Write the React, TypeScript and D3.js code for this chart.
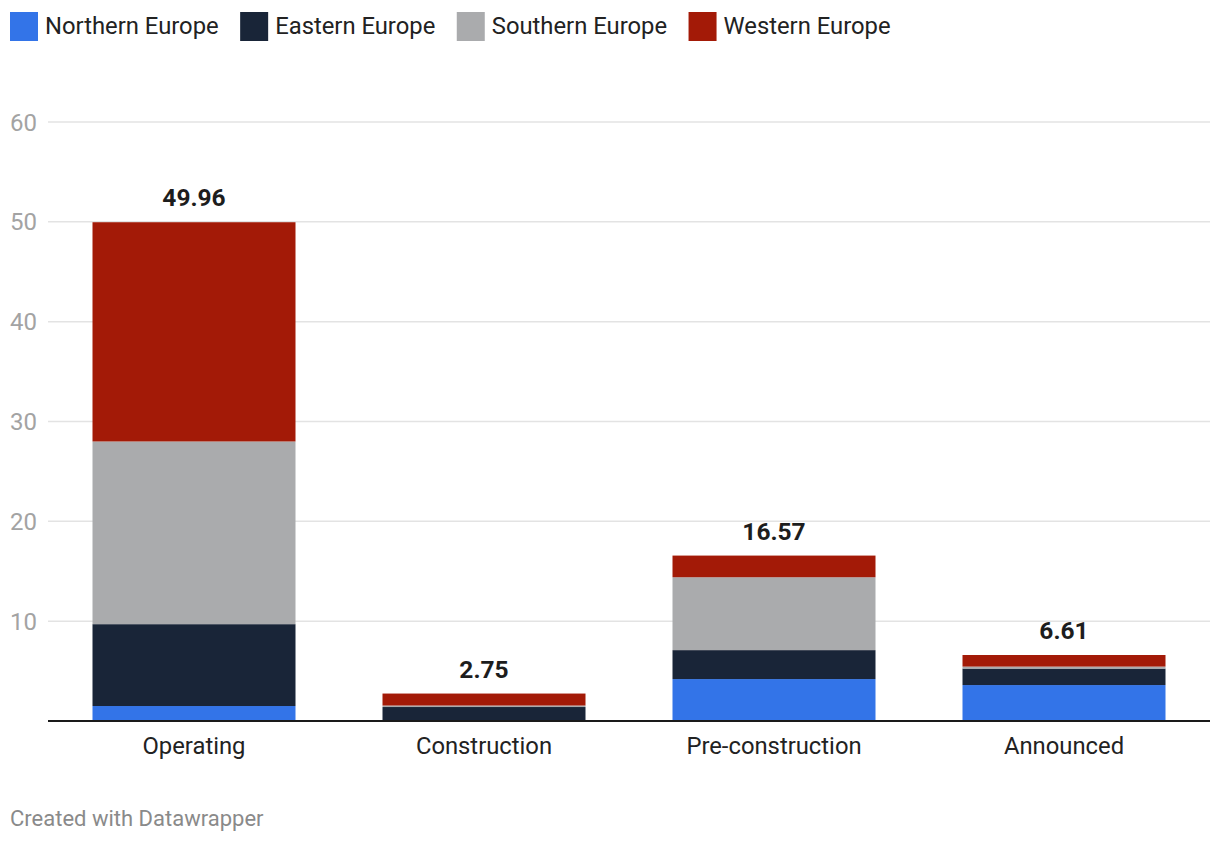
import React, { useEffect, useRef } from "react";
import * as d3 from "d3";

const categories = ["Operating", "Construction", "Pre-construction", "Announced"];
const seriesNames = ["Northern Europe", "Eastern Europe", "Southern Europe", "Western Europe"];
const northern = [1.5, 0, 4.2, 3.6];
const eastern = [8.2, 1.4, 2.9, 1.65];
const southern = [18.3, 0.15, 7.3, 0.2];
const western = [21.96, 1.2, 2.17, 1.16];
const totals = [49.96, 2.75, 16.57, 6.61];
const totalLabels = ["49.96", "2.75", "16.57", "6.61"];
const yTicks = [10, 20, 30, 40, 50, 60];
const colors = ["#3374e8", "#192538", "#aaabad", "#a31a07"];

const W = 1220;
const H = 844;
const FONT = "Roboto, 'Noto Sans', sans-serif";

export default function App() {
  const ref = useRef<SVGSVGElement | null>(null);

  useEffect(() => {
    document.body.style.margin = "0";
    const svg = d3.select(ref.current);
    svg.selectAll("*").remove();

    const x = d3.scaleBand<string>().domain(categories).range([49, 1209]).paddingInner(0.3).paddingOuter(0.15);
    const y = d3.scaleLinear().domain([0, 60]).range([721, 122]);

    const grid = svg.append("g");
    yTicks.forEach((t) => {
      grid.append("line").attr("x1", 48).attr("x2", 1210).attr("y1", y(t)).attr("y2", y(t))
        .attr("stroke", "#e3e3e3").attr("stroke-width", 1.5);
      grid.append("text").attr("x", 10).attr("y", y(t) + 8.5).text(String(t))
        .attr("font-family", FONT).attr("font-size", 24).attr("fill", "#a3a3a3");
    });

    const rows = categories.map((c, i) => ({
      cat: c,
      "Northern Europe": northern[i],
      "Eastern Europe": eastern[i],
      "Southern Europe": southern[i],
      "Western Europe": western[i],
    }));
    const stack = d3.stack<any>().keys(seriesNames)(rows);
    stack.forEach((layer, li) => {
      svg.append("g").selectAll("rect").data(layer).join("rect")
        .attr("x", (d: any) => x(d.data.cat)!)
        .attr("width", x.bandwidth())
        .attr("y", (d: any) => y(d[1]))
        .attr("height", (d: any) => Math.max(0, y(d[0]) - y(d[1])))
        .attr("fill", colors[li]);
    });

    svg.append("line").attr("x1", 48).attr("x2", 1210).attr("y1", 721).attr("y2", 721)
      .attr("stroke", "#1a1a1a").attr("stroke-width", 2);

    categories.forEach((c, i) => {
      svg.append("text").attr("x", x(c)! + x.bandwidth() / 2).attr("y", y(totals[i]) - 16)
        .attr("text-anchor", "middle").attr("font-family", FONT).attr("font-size", 24.5)
        .attr("font-weight", 700).attr("fill", "#1d1d1d").text(totalLabels[i]);
      svg.append("text").attr("x", x(c)! + x.bandwidth() / 2).attr("y", 754)
        .attr("text-anchor", "middle").attr("font-family", FONT).attr("font-size", 23.8)
        .attr("fill", "#222").text(c);
    });

    let lx = 10;
    seriesNames.forEach((s, i) => {
      svg.append("rect").attr("x", lx).attr("y", 12).attr("width", 28).attr("height", 29).attr("fill", colors[i]);
      const t = svg.append("text").attr("x", lx + 35).attr("y", 34).attr("font-family", FONT)
        .attr("font-size", 23.8).attr("fill", "#222").text(s);
      const w = (t.node() as SVGTextElement).getComputedTextLength();
      lx = lx + 35 + w + 21.5;
    });

    svg.append("text").attr("x", 10).attr("y", 826).attr("font-family", FONT).attr("font-size", 22)
      .attr("fill", "#8a8a8a").text("Created with Datawrapper");
  }, []);

  return <svg ref={ref} width={W} height={H} style={{ display: "block", background: "#fff" }} />;
}
